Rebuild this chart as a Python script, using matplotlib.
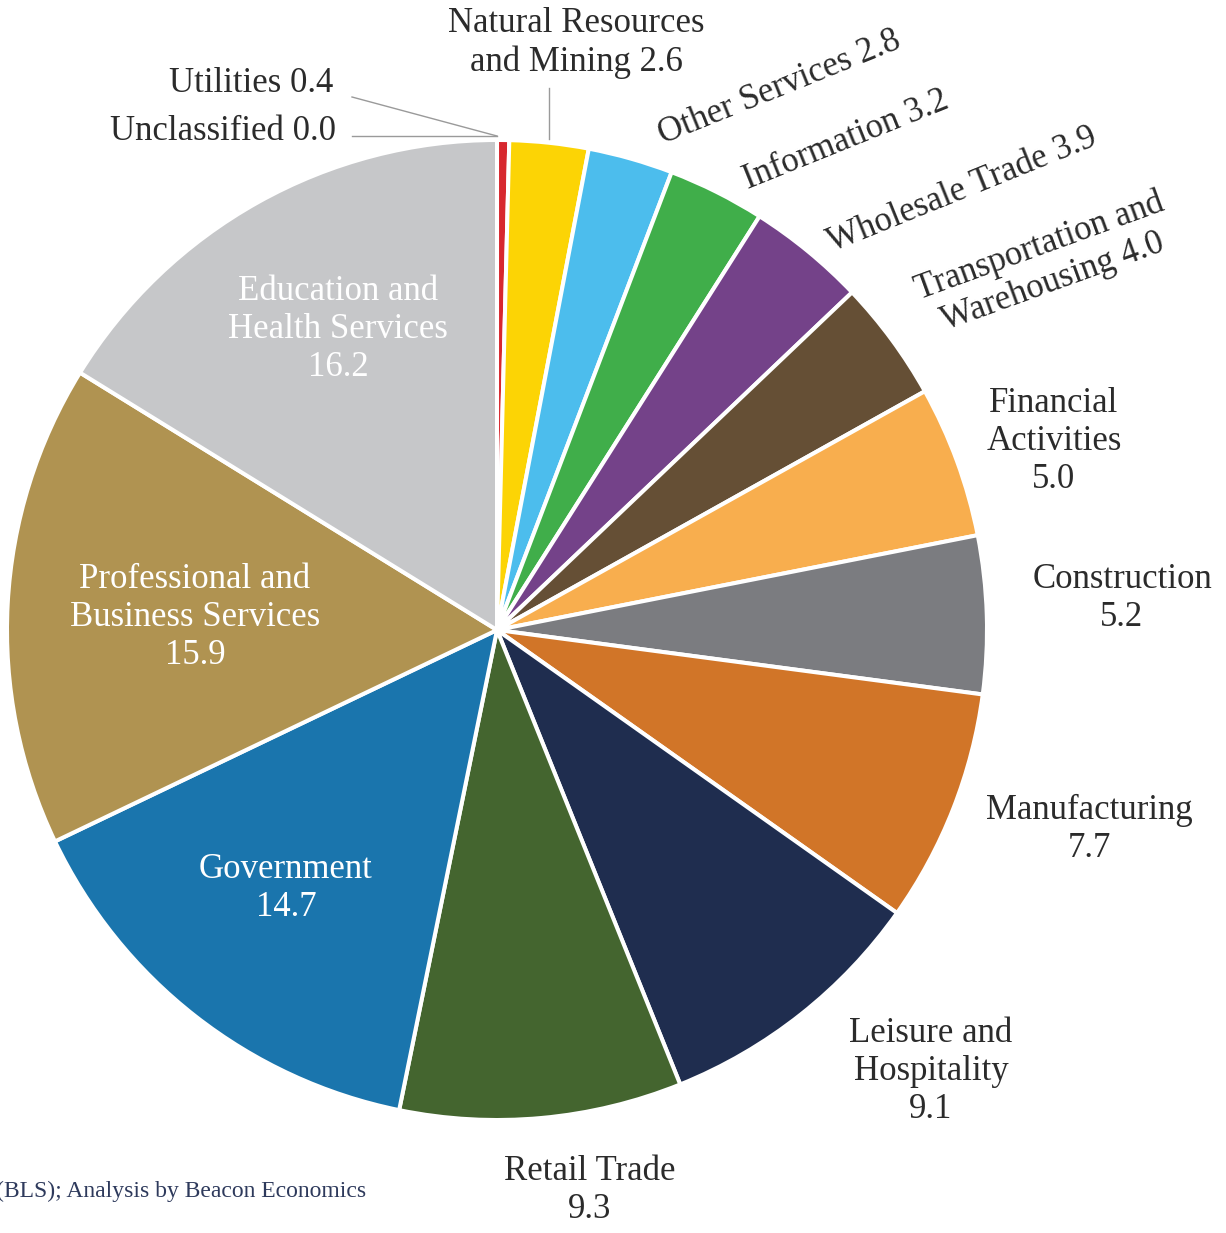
import numpy as np
import matplotlib
matplotlib.use("Agg")
import matplotlib.pyplot as plt

# employment share by industry, percent
industries = ["Unclassified", "Utilities", "Natural Resources\nand Mining", "Other Services",
              "Information", "Wholesale Trade", "Transportation and\nWarehousing",
              "Financial\nActivities", "Construction", "Manufacturing",
              "Leisure and\nHospitality", "Retail Trade", "Government",
              "Professional and\nBusiness Services", "Education and\nHealth Services"]
shares = [0.0, 0.4, 2.6, 2.8, 3.2, 3.9, 4.0, 5.0, 5.2, 7.7, 9.1, 9.3, 14.7, 15.9, 16.2]
colors = ["#9a9a9a", "#d7282f", "#fcd405", "#4cbded", "#40ae4a", "#744289", "#654f35",
          "#f8ae4e", "#7b7c80", "#d17528", "#1f2d4f", "#44652f", "#1a75ad", "#b09351",
          "#c6c7c9"]

W, H = 1226, 1233
plt.rcParams['font.family'] = ['Liberation Serif', 'DejaVu Serif']
fig = plt.figure(figsize=(W / 100, H / 100), dpi=100)
ax = fig.add_axes([0, 0, 1, 1])

cx, cy, R = 497, H - 630, 490
wedges, _ = ax.pie(shares, colors=colors, startangle=90, counterclock=False,
                   center=(cx, cy), radius=R,
                   wedgeprops=dict(edgecolor="white", linewidth=2.9))
ax.set_xlim(0, W)
ax.set_ylim(0, H)
ax.set_aspect("equal")
ax.axis("off")

dark = "#2b2b2b"
fs = 25

def lab(i, px, py, color=dark, ha="center", rot=0, sep=" "):
    txt = industries[i] + sep + f"{shares[i]:.1f}"
    ax.text(px, H - py, txt, ha=ha, va="center", color=color, fontsize=fs,
            rotation=rot, rotation_mode="anchor", linespacing=1.2)

# labels inside the big wedges
lab(14, 338, 330, color="white", sep="\n")
lab(13, 195, 617, color="white", sep="\n")
lab(12, 286, 889, color="white", sep="\n")
# labels around the rim
lab(11, 590, 1191, sep="\n")
lab(10, 931, 1072, sep="\n")
lab(9, 1089, 829, sep="\n")
lab(8, 1122, 598, sep="\n")
lab(7, 1054, 441, sep="\n")
lab(6, 1046, 264, rot=20)
lab(5, 962, 190, rot=22)
lab(4, 846, 140, rot=22)
lab(3, 780, 88, rot=22)
lab(2, 576, 43)
lab(1, 333, 83, ha="right")
lab(0, 336, 131, ha="right")

# leader lines for the thin slices at the top
def mid_angle(w):
    return np.deg2rad((w.theta1 + w.theta2) / 2)

a = mid_angle(wedges[2])
ax.plot([cx + R * np.cos(a)] * 2, [cy + R * np.sin(a) + 4, H - 88],
        color="#9a9a9a", lw=1.0)
top = cy + R + 4
ax.plot([352, cx], [H - 97, top], color="#9a9a9a", lw=1.0)
ax.plot([352, cx], [top, top], color="#9a9a9a", lw=1.0)

ax.text(366, H - 1191, "Source: U.S. Bureau of Labor Statistics (BLS); Analysis by Beacon Economics",
        ha="right", va="center", color="#2e3a5c", fontsize=17)

fig.savefig("out.png", dpi=100)
